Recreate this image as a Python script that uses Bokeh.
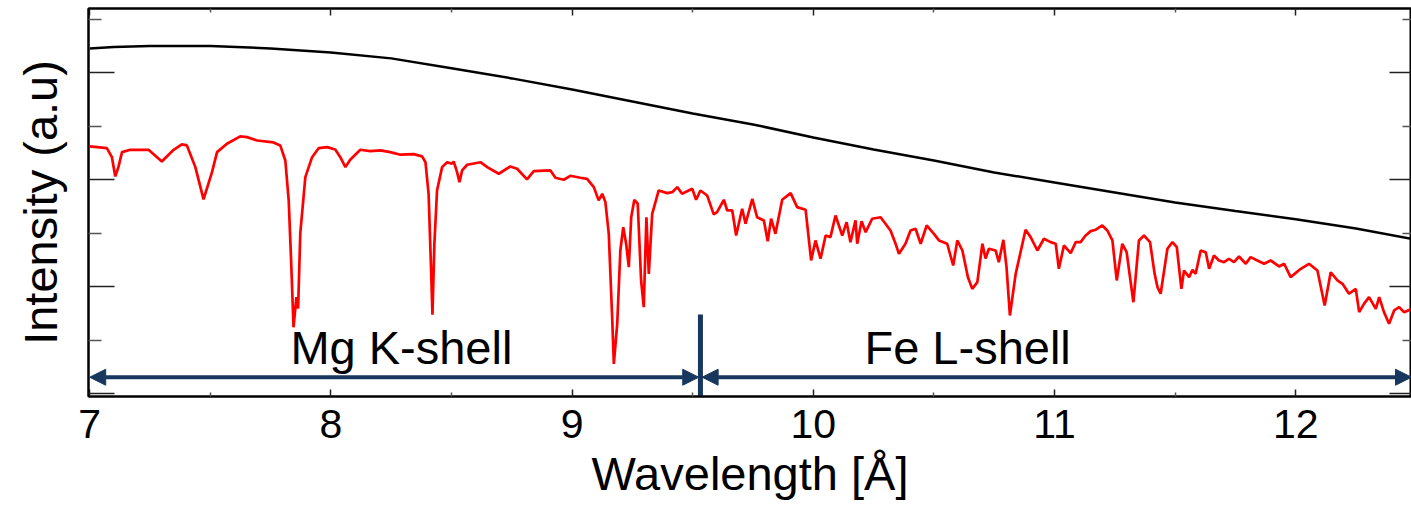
from bokeh.plotting import figure
from bokeh.models import Range1d, LinearAxis, FixedTicker, Arrow, NormalHead, ColumnDataSource
from bokeh.core.properties import value
from bokeh.embed import file_html
from bokeh.resources import INLINE

FONT = "Liberation Sans"
NAVY = "#17375E"

# ---------------- data ----------------
x_major = [7, 8, 9, 10, 11, 12]
x_minor = [7.5, 8.5, 9.5, 10.5, 11.5]
y_major = [0, 1, 2, 3]
y_minor = [0.5, 1.5, 2.5, 3.5]

# continuum (black)
cont_x = [7.0, 7.1, 7.25, 7.5, 7.75, 8.0, 8.25, 8.5, 8.75, 9.0, 9.25, 9.5, 9.75,
          10.0, 10.25, 10.5, 10.75, 11.0, 11.25, 11.5, 11.75, 12.0, 12.25, 12.48]
cont_y = [3.227, 3.241, 3.250, 3.250, 3.227, 3.188, 3.134, 3.042, 2.947, 2.843, 2.731, 2.619, 2.517,
          2.395, 2.283, 2.180, 2.068, 1.975, 1.881, 1.788, 1.708, 1.630, 1.545, 1.447]

# absorbed spectrum (red)
spec_x = [7.000, 7.071, 7.092, 7.106, 7.119, 7.134, 7.168, 7.244, 7.299, 7.348,
          7.382, 7.403, 7.438, 7.472, 7.507, 7.528, 7.569, 7.624, 7.652, 7.694,
          7.762, 7.790, 7.811, 7.825, 7.835, 7.845, 7.857, 7.864, 7.873, 7.894,
          7.922, 7.949, 7.984, 8.018, 8.039, 8.060, 8.080, 8.122, 8.163, 8.205,
          8.246, 8.288, 8.343, 8.378, 8.392, 8.405, 8.415, 8.421, 8.429, 8.440,
          8.461, 8.482, 8.502, 8.509, 8.523, 8.533, 8.544, 8.565, 8.620, 8.648,
          8.696, 8.744, 8.772, 8.813, 8.841, 8.910, 8.931, 8.965, 8.993, 9.034,
          9.062, 9.090, 9.110, 9.125, 9.138, 9.152, 9.166, 9.173, 9.187, 9.200,
          9.212, 9.224, 9.235, 9.245, 9.258, 9.272, 9.286, 9.297, 9.308, 9.318,
          9.332, 9.359, 9.394, 9.415, 9.436, 9.456, 9.498, 9.514, 9.532, 9.560,
          9.587, 9.601, 9.629, 9.643, 9.664, 9.680, 9.705, 9.719, 9.747, 9.767,
          9.795, 9.811, 9.825, 9.843, 9.871, 9.906, 9.933, 9.968, 9.991, 10.009,
          10.030, 10.051, 10.071, 10.092, 10.120, 10.138, 10.154, 10.175, 10.182, 10.200,
          10.217, 10.244, 10.279, 10.320, 10.341, 10.355, 10.382, 10.403, 10.424, 10.445,
          10.470, 10.500, 10.521, 10.555, 10.580, 10.597, 10.618, 10.641, 10.659, 10.680,
          10.701, 10.714, 10.728, 10.756, 10.769, 10.788, 10.801, 10.815, 10.839, 10.880,
          10.901, 10.929, 10.956, 10.984, 11.005, 11.018, 11.039, 11.067, 11.088, 11.108,
          11.129, 11.150, 11.171, 11.198, 11.219, 11.240, 11.258, 11.281, 11.299, 11.327,
          11.350, 11.371, 11.396, 11.415, 11.427, 11.440, 11.468, 11.489, 11.507, 11.526,
          11.537, 11.558, 11.572, 11.585, 11.606, 11.627, 11.641, 11.661, 11.682, 11.703,
          11.723, 11.744, 11.765, 11.793, 11.813, 11.841, 11.869, 11.896, 11.931, 11.952,
          11.979, 12.021, 12.055, 12.090, 12.120, 12.145, 12.173, 12.194, 12.221, 12.249,
          12.263, 12.283, 12.304, 12.332, 12.346, 12.366, 12.387, 12.408, 12.429, 12.449, 12.481]
spec_y = [2.311, 2.295, 2.211, 2.031, 2.118, 2.258, 2.280, 2.280, 2.171, 2.280,
          2.330, 2.321, 2.118, 1.816, 2.071, 2.258, 2.336, 2.405, 2.398, 2.367,
          2.349, 2.321, 2.180, 1.807, 1.246, 0.622, 0.903, 0.797, 1.498, 2.024,
          2.211, 2.295, 2.305, 2.283, 2.211, 2.118, 2.187, 2.280, 2.267, 2.274,
          2.258, 2.234, 2.239, 2.218, 2.164, 1.869, 1.183, 0.738, 1.402, 1.900,
          2.118, 2.164, 2.150, 2.171, 2.071, 1.978, 2.087, 2.140, 2.164, 2.118,
          2.056, 2.124, 2.103, 2.003, 2.080, 2.087, 2.019, 2.000, 2.037, 2.019,
          2.009, 1.931, 1.807, 1.869, 1.791, 1.495, 0.716, 0.280, 0.654, 1.339,
          1.557, 1.402, 1.183, 1.650, 1.813, 1.776, 1.059, 0.809, 1.650, 1.121,
          1.682, 1.900, 1.875, 1.884, 1.931, 1.869, 1.916, 1.813, 1.900, 1.853,
          1.676, 1.697, 1.813, 1.713, 1.713, 1.479, 1.729, 1.589, 1.822, 1.650,
          1.620, 1.426, 1.636, 1.495, 1.813, 1.875, 1.744, 1.720, 1.246, 1.433,
          1.262, 1.479, 1.464, 1.666, 1.479, 1.604, 1.417, 1.620, 1.402, 1.613,
          1.510, 1.636, 1.650, 1.526, 1.402, 1.308, 1.402, 1.526, 1.542, 1.402,
          1.573, 1.495, 1.433, 1.402, 1.199, 1.433, 1.339, 1.090, 0.981, 1.043,
          1.402, 1.264, 1.355, 1.339, 1.230, 1.439, 1.183, 0.732, 1.121, 1.533,
          1.464, 1.339, 1.449, 1.417, 1.402, 1.168, 1.386, 1.314, 1.417, 1.417,
          1.479, 1.520, 1.533, 1.573, 1.526, 1.433, 1.059, 1.402, 1.323, 0.856,
          1.433, 1.479, 1.417, 1.121, 0.996, 0.935, 1.355, 1.417, 1.370, 0.981,
          1.152, 1.090, 1.159, 1.121, 1.339, 1.323, 1.168, 1.293, 1.246, 1.230,
          1.262, 1.230, 1.283, 1.215, 1.277, 1.246, 1.215, 1.246, 1.190, 1.215,
          1.090, 1.168, 1.215, 1.152, 0.825, 1.136, 1.059, 1.028, 0.935, 0.981,
          0.763, 0.841, 0.903, 0.794, 0.903, 0.763, 0.654, 0.779, 0.809, 0.763, 0.794]

# regions (arrows + labels)
region_names = ["Mg K-shell", "Fe L-shell"]
region_start = [7.0, 9.539]
region_end = [9.525, 12.48]
region_label_x = [7.832, 10.212]
region_label_y = [0.43, 0.43]
arrow_y = 0.155
divider_x = [9.532]
divider_y0 = [-0.03]
divider_y1 = [0.741]

x_title = "Wavelength [Å]"
y_title = "Intensity (a.u)"

# ---------------- figure ----------------
p = figure(width=1411, height=508,
           x_range=Range1d(6.995, 12.48), y_range=Range1d(-0.025, 3.6),
           output_backend="svg", toolbar_location=None,
           x_axis_location=None, y_axis_location=None,
           min_border_left=88, min_border_right=0, min_border_top=8, min_border_bottom=112)
p.grid.visible = False
p.outline_line_color = "black"
p.outline_line_width = 2
p.background_fill_color = "white"
p.border_fill_color = "white"

xt = FixedTicker(ticks=x_major, minor_ticks=x_minor)
yt = FixedTicker(ticks=y_major, minor_ticks=y_minor)


def style(ax, maj, mnr, labels):
    ax.major_tick_in = maj
    ax.major_tick_out = 0
    ax.minor_tick_in = mnr
    ax.minor_tick_out = 0
    ax.axis_line_color = "black"
    ax.axis_line_width = 2
    ax.major_tick_line_color = "#222222"
    ax.major_tick_line_width = 1.5
    ax.minor_tick_line_color = "#555555"
    ax.minor_tick_line_width = 1.5
    if not labels:
        ax.major_label_text_color = None
        ax.major_label_text_font_size = "1px"
        ax.major_label_standoff = 0


xb = LinearAxis(ticker=xt, axis_label=x_title)
style(xb, 7, 4, True)
xb.major_label_text_font = FONT
xb.major_label_text_font_size = "41px"
xb.major_label_text_color = "black"
xb.major_label_standoff = 13
xb.axis_label_text_font = FONT
xb.axis_label_text_font_size = "47px"
xb.axis_label_text_font_style = "normal"
xb.axis_label_text_color = "black"
xb.axis_label_standoff = 6
p.add_layout(xb, "below")

xa = LinearAxis(ticker=xt)
style(xa, 7, 4, False)
p.add_layout(xa, "above")

yl = LinearAxis(ticker=yt, axis_label=y_title)
style(yl, 26, 13, False)
yl.axis_label_text_font = FONT
yl.axis_label_text_font_size = "47px"
yl.axis_label_text_font_style = "normal"
yl.axis_label_text_color = "black"
yl.axis_label_standoff = 22
p.add_layout(yl, "left")

yr = LinearAxis(ticker=yt)
style(yr, 22, 9, False)
p.add_layout(yr, "right")

# curves
p.line(cont_x, cont_y, line_color="black", line_width=2.5)
p.line(spec_x, spec_y, line_color="#FF0000", line_width=2.7)

# region arrows
for i in range(len(region_names)):
    p.add_layout(Arrow(start=NormalHead(size=16, fill_color=NAVY, line_color=NAVY, line_width=1),
                       end=NormalHead(size=16, fill_color=NAVY, line_color=NAVY, line_width=1),
                       x_start=region_start[i], y_start=arrow_y,
                       x_end=region_end[i], y_end=arrow_y,
                       line_color=NAVY, line_width=4))

p.segment(x0=divider_x, y0=divider_y0, x1=divider_x, y1=divider_y1,
          line_color=NAVY, line_width=5)

src = ColumnDataSource(dict(x=region_label_x, y=region_label_y, t=region_names))
p.text(x="x", y="y", text="t", source=src, text_font=value(FONT), text_font_size="47px",
       text_baseline="alphabetic", text_align="left", text_color="black")

open("out.html", "w").write(file_html(p, INLINE))
